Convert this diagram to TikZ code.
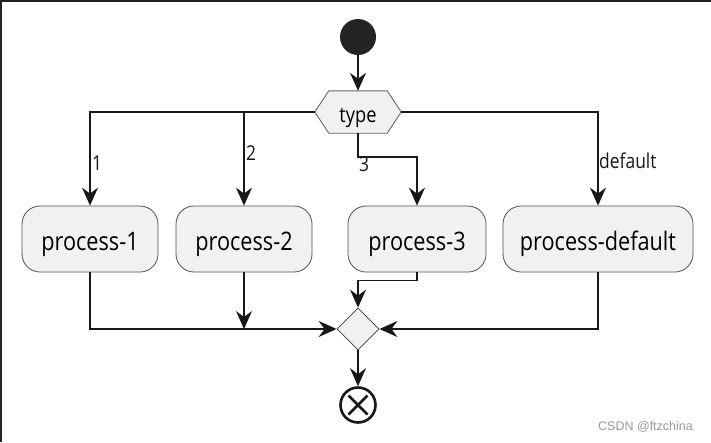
\documentclass[tikz,border=0pt]{standalone}
\usepackage{fontspec}
\setmainfont{Open Sans}
\newfontfamily\wmfont{Liberation Sans}
\usetikzlibrary{shapes.geometric,arrows.meta}
\definecolor{boxfill}{HTML}{F1F1F1}
\definecolor{ink}{HTML}{181818}
\newcommand\narrowtxt[1]{\scalebox{0.85}[1]{#1}}
\newcommand\basetxt[2]{\smash{\raisebox{-#1}{\narrowtxt{#2}}}}
\tikzset{
  arr/.style={draw=ink, line width=1.5pt, -{Stealth[length=18pt,width=16pt,inset=6pt]}},
  procbox/.style={rectangle, rounded corners=18pt, draw=ink!75, line width=0.8pt, fill=boxfill,
    minimum height=66pt, inner sep=0pt, font=\fontsize{25.5}{30}\selectfont},
  hexbox/.style={rectangle, minimum width=86pt, minimum height=42pt, inner sep=0pt, font=\fontsize{21.5}{25}\selectfont},
  mergebox/.style={diamond, aspect=1, minimum width=42pt, minimum height=42pt, inner sep=0pt, draw=ink!85, line width=0.8pt, fill=boxfill},
  startc/.style={circle, fill=ink!95, minimum size=36pt, inner sep=0pt},
  endc/.style={circle, draw=ink, line width=2.6pt, minimum size=35pt, inner sep=0pt},
  lbl/.style={anchor=base west, inner sep=0pt, font=\fontsize{20.5}{24}\selectfont, text=ink},
}
\begin{document}
\begin{tikzpicture}[x=1pt,y=-1pt]
\useasboundingbox (0,0) rectangle (711,442);
\fill[white] (0,0) rectangle (711,442);
\fill[ink!95] (0,0) rectangle (711,1.5);
\fill[ink!95] (0,0) rectangle (2,442);

\node[startc] (start) at (358,37) {};
\node[hexbox] (type) at (358,112) {};
\draw[draw=gray!80!black, line width=0.9pt, fill=boxfill]
  (type.west) -- ([xshift=14pt]type.north west) -- ([xshift=-14pt]type.north east)
  -- (type.east) -- ([xshift=-14pt]type.south east) -- ([xshift=14pt]type.south west) -- cycle;
\node[hexbox] (typetext) at (358,112) {\basetxt{10pt}{type}};

\node[procbox, minimum width=136pt] (p1) at (90,239) {\basetxt{11pt}{process-1}};
\node[procbox, minimum width=136pt] (p2) at (244,239) {\basetxt{11pt}{process-2}};
\node[procbox, minimum width=138pt] (p3) at (417,239) {\basetxt{11pt}{process-3}};
\node[procbox, minimum width=190pt] (pd) at (598,239) {\basetxt{11pt}{process-default}};

\node[mergebox] (merge) at (358,329) {};
\node[endc] (end) at (358,405) {};
\draw[draw=ink, line width=2.8pt] ([shift={(-9.5,-9.5)}]end.center) -- ([shift={(9.5,9.5)}]end.center);
\draw[draw=ink, line width=2.8pt] ([shift={(-9.5,9.5)}]end.center) -- ([shift={(9.5,-9.5)}]end.center);

\draw[arr] (start) -- (type.north);
\draw[arr] (type.west) -| (p1.north);
\draw[arr] (p2.north |- type.west) -- (p2.north);
\draw[arr] (type.south) -- ++(0,24) coordinate (t3) -| (p3.north);
\draw[arr] (type.east) -| (pd.north);

\node[lbl] (l1) at (92,170) {\narrowtxt{1}};
\node[lbl] (l2) at (246,160) {\narrowtxt{2}};
\node[lbl] (l3) at (359,171) {\narrowtxt{3}};
\node[lbl] (ld) at (599,168) {\narrowtxt{default}};

\draw[arr] (p1.south) |- (merge.west);
\draw[arr] (p2.south) -- (p2.south |- merge.west);
\draw[arr] (pd.south) |- (merge.east);
\draw[arr] (p3.south) -- ++(0,8) -| (merge.north);
\draw[arr] (merge.south) -- (end.north);

\node[anchor=west, inner sep=0pt, text=gray!80, font=\wmfont\fontsize{12.5}{15}\selectfont] (wm) at (598,427) {CSDN @ftzchina};
\end{tikzpicture}
\end{document}
